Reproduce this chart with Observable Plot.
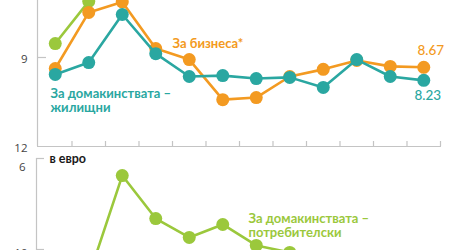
<!DOCTYPE html>
<html><head><meta charset="utf-8">
<script src="https://cdn.jsdelivr.net/npm/d3@7"></script>
<script src="https://cdn.jsdelivr.net/npm/@observablehq/plot@0.6"></script>
<style>
html,body{margin:0;padding:0;background:#fff;overflow:hidden;width:450px;height:250px}
#topPanel{margin-top:-60px}
svg{display:block}
</style></head><body><div id="topPanel"></div><div id="bottomPanel"></div>
<script>
// ---- data ----
const months = ["1","2","3","4","5","6","7","8","9","10","11","12"];
const business = [8.63, 10.52, 10.87, 9.30, 8.93, 7.58, 7.65, 8.36, 8.60, 8.90, 8.70, 8.67];
const housing  = [8.43, 8.83, 10.45, 9.13, 8.36, 8.39, 8.29, 8.33, 7.99, 8.93, 8.36, 8.23];
const consumerTop = [9.47, 10.89, 12.6];
const consumerEuro = [10.9, 11.19, 6.75, 8.64, 9.47, 8.90, 9.82, 10.13, 10.6, 10.7, 10.6, 10.7];
const topTicks = [6, 9];
const topTickLabels = ["12", "9"];
const bottomTicks = [6, 10];
const bottomTickLabels = ["6", "10"];
const endLabels = ["8.67", "8.23"];
const seriesLabels = {
  business: "За бизнеса*",
  housing: "За домакинствата –\nжилищни",
  consumer: "За домакинствата –\nпотребителски",
  unit: "в евро"
};

// ---- style ----
const ORANGE = "#f39a21", TEAL = "#2aa7a1", GREEN = "#9bc83c", GRAY = "#c4c4c4";
const FONT = "Lato, 'Open Sans', sans-serif";
const W = 450, ML = 38, MR = 10;
const frameW = W - ML - MR;
const idx = (d, i) => i;
const xBounds = months.slice(0, -1).map((m, i) => i + 0.5).concat([months.length - 0.5]);

function series(data, color) {
  return [
    Plot.line(data, {x: idx, y: d => d, stroke: color, strokeWidth: 2.6}),
    Plot.dot(data, {x: idx, y: d => d, r: 6.5, fill: color})
  ];
}

// ---- top panel ----
const topH = 212, topMT = 28, topMB = 6;
const topFrameH = topH - topMT - topMB;
const topChart = Plot.plot({
  width: W, height: topH, marginLeft: ML, marginRight: MR, marginTop: topMT, marginBottom: topMB,
  style: {fontFamily: FONT, background: "transparent", overflow: "visible"},
  x: {type: "linear", domain: [-0.5, months.length - 0.5], axis: null},
  y: {domain: [6, 12], axis: null},
  marks: [
    Plot.ruleX([-0.5], {stroke: GRAY, strokeWidth: 1.2, dx: -1}),
    Plot.ruleY([6], {stroke: GRAY, strokeWidth: 1.2, insetLeft: -1, insetRight: -1}),
    Plot.tickX(xBounds, {x: d => d, stroke: GRAY, strokeWidth: 1.2, insetTop: topFrameH - 5}),
    Plot.tickY([9], {y: d => d, stroke: GRAY, strokeWidth: 1.2, insetRight: frameW - 9, dx: -1}),
    Plot.axisY({ticks: topTicks, tickFormat: d => topTickLabels[topTicks.indexOf(d)], tickSize: 0, tickPadding: 11, dy: 2, fontSize: 11.5, fill: "#444", label: null, fontFamily: "'Open Sans', sans-serif"}),
    ...series(consumerTop, GREEN),
    ...series(business, ORANGE),
    ...series(housing, TEAL),
    Plot.text([seriesLabels.business], {frameAnchor: "top-left", text: d => d, dx: 134, dy: 75, textAnchor: "start", lineAnchor: "middle", fill: ORANGE, fontWeight: "bold", fontSize: 13}),
    Plot.text([seriesLabels.housing], {frameAnchor: "top-left", text: d => d, dx: 12, dy: 132, textAnchor: "start", lineAnchor: "middle", lineHeight: 1.1, fill: TEAL, fontWeight: "bold", fontSize: 13}),
    Plot.text([business[business.length - 1]], {x: business.length - 1, y: d => d, text: () => endLabels[0], dx: 7, dy: -17, fill: ORANGE, fontSize: 13.5, fontWeight: 500}),
    Plot.text([housing[housing.length - 1]], {x: housing.length - 1, y: d => d, text: () => endLabels[1], dx: 4, dy: 15, fill: TEAL, fontSize: 13.5, fontWeight: 500})
  ]
});
document.getElementById("topPanel").appendChild(topChart);

// ---- bottom panel ----
const botH = 150, botMT = 6, botMB = 53;
const bottomChart = Plot.plot({
  width: W, height: botH, marginLeft: ML, marginRight: MR, marginTop: botMT, marginBottom: botMB,
  style: {fontFamily: FONT, background: "transparent", overflow: "visible"},
  x: {type: "linear", domain: [-0.5, months.length - 0.5], axis: null},
  y: {domain: [6, 10], reverse: true, axis: null},
  marks: [
    Plot.ruleX([-0.5], {stroke: GRAY, strokeWidth: 1.2, dx: -2, insetBottom: -60}),
    Plot.tickY(bottomTicks, {y: d => d, stroke: GRAY, strokeWidth: 1.2, insetRight: frameW - 8, dx: -2}),
    Plot.axisY({ticks: [bottomTicks[0]], tickFormat: () => bottomTickLabels[0], tickSize: 0, tickPadding: 13, dy: 9, fontSize: 11.5, fill: "#444", label: null, fontFamily: "'Open Sans', sans-serif"}),
    Plot.axisY({ticks: [bottomTicks[1]], tickFormat: () => bottomTickLabels[1], tickSize: 0, tickPadding: 11, dy: 4, fontSize: 11.5, fill: "#444", label: null, fontFamily: "'Open Sans', sans-serif"}),
    ...series(consumerEuro, GREEN),
    Plot.text([seriesLabels.unit], {frameAnchor: "top-left", text: d => d, dx: 11, dy: 0, textAnchor: "start", lineAnchor: "middle", fill: "#1a1a1a", fontWeight: "bold", fontSize: 12.5}),
    Plot.text([seriesLabels.consumer], {frameAnchor: "top-left", text: d => d, dx: 210, dy: 67, textAnchor: "start", lineAnchor: "middle", lineHeight: 1.1, fill: GREEN, fontWeight: "bold", fontSize: 13})
  ]
});
document.getElementById("bottomPanel").appendChild(bottomChart);
</script>
</body></html>
